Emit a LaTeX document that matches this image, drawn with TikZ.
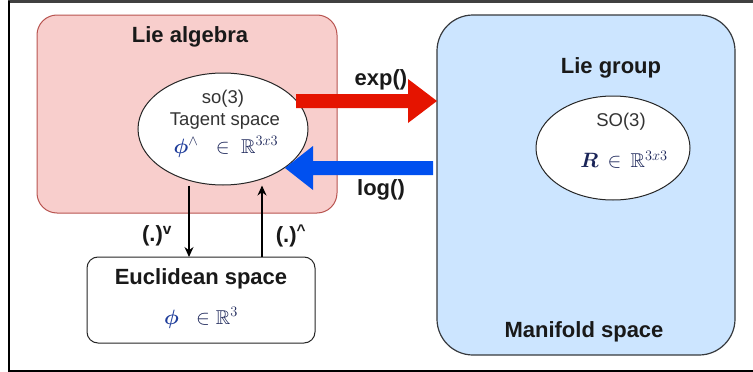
\documentclass[tikz,border=0pt]{standalone}
\usepackage{amssymb}
\usepackage{bm}
\usepackage{fontspec}
\setmainfont{Liberation Sans}
\usetikzlibrary{arrows.meta,shapes.geometric}
\definecolor{pinkfill}{HTML}{F8CECC}
\definecolor{pinkdraw}{HTML}{B85450}
\definecolor{bluefill}{HTML}{CCE5FF}
\definecolor{bluedraw}{HTML}{36393D}
\definecolor{redarrow}{HTML}{E51400}
\definecolor{bluearrow}{HTML}{0050EF}
\definecolor{mathcol}{HTML}{1A2458}
\definecolor{phicol}{HTML}{1E3C9A}
\definecolor{framecol}{HTML}{404040}
\tikzset{
  boldlabel/.style={font=\fontsize{22}{25}\selectfont\bfseries, inner sep=0pt, text=black!90},
  plainlabel/.style={font=\fontsize{18.5}{22}\selectfont, inner sep=0pt, text=black!80},
  mathlabel/.style={font=\fontsize{20}{22}\selectfont, inner sep=0pt, text=mathcol},
  ellnode/.style={draw=black!85, line width=1pt, fill=white, ellipse, inner sep=0pt},
  thinarrow/.style={draw=black, line width=1.1pt, -{Stealth[length=10pt,width=9pt]}},
}
\begin{document}
\begin{tikzpicture}[x=1pt, y=-1pt]
\useasboundingbox (0,0) rectangle (753,372);
% outer frame
\draw[framecol, line width=2.7pt] (8,1.35) -- (753,1.35);
\draw[black, line width=1.6pt] (9,1) -- (9,370.5);
\draw[black, line width=2pt] (8,370.5) -- (753,370.5);
% containers
\draw[draw=pinkdraw, fill=pinkfill, line width=1pt, rounded corners=20pt] (37,15) rectangle (337,213);
\draw[draw=bluedraw, fill=bluefill, line width=1.2pt, rounded corners=36pt] (437,15) rectangle (735,355);
\draw[draw=black!85, fill=white, line width=1pt, rounded corners=11pt] (87,257) rectangle (315,343);
\coordinate (euctop1) at (189,257);
\coordinate (euctop2) at (262,257);
% ellipses
\node[ellnode, minimum width=170pt, minimum height=112pt] (alg) at (223,129) {};
\node[ellnode, minimum width=154pt, minimum height=104pt] (grp) at (613,148) {};
% texts
\node[boldlabel] (lalg) at (190,37) {Lie algebra};
\node[boldlabel] (lgrp) at (611,68) {Lie group};
\node[boldlabel] (mani) at (584,332) {Manifold space};
\node[boldlabel] (eucl) at (201,279) {Euclidean space};
\node[boldlabel] (expl) at (381,80) {exp()};
\node[boldlabel] (logl) at (381,190) {log()};
\node[boldlabel] (vee) at (157,236) {(.)\textsuperscript{v}};
\node[boldlabel] (hat) at (291,236) {(.)\textsuperscript{\textasciicircum}};
\node[plainlabel] (so3) at (223,99) {so(3)};
\node[plainlabel] (tang) at (225,121) {Tagent space};
\node[mathlabel] (m1) at (226,147) {$\textcolor{phicol}{\bm{\phi}}^{\wedge}\;\;\in\;\mathbb{R}^{3x3}$};
\node[plainlabel] (SO3) at (621,122) {SO(3)};
\node[mathlabel] (m2) at (624,160) {$\bm{R}\,\in\,\mathbb{R}^{3x3}$};
\node[mathlabel] (m3) at (201,318) {$\textcolor{phicol}{\bm{\phi}}\;\;\in\mathbb{R}^{3}$};
% thin arrows
\draw[thinarrow] (alg.south -| euctop1) -- (euctop1);
\draw[thinarrow] (euctop2) -- (alg.south -| euctop2);
% block arrows
\coordinate (rs) at (296,101);
\coordinate (rt) at (437,101);
\fill[redarrow] (rs) ++(0,-7) -- ++(112,0) -- ++(0,-15) -- (rt) -- (408,123) -- (408,108) -- (296,108) -- cycle;
\coordinate (bs) at (433,168);
\coordinate (bt) at (285,168);
\fill[bluearrow] (bs) ++(0,-7) -- (313,161) -- (313,146) -- (bt) -- (313,190) -- (313,175) -- (433,175) -- cycle;
\end{tikzpicture}
\end{document}
